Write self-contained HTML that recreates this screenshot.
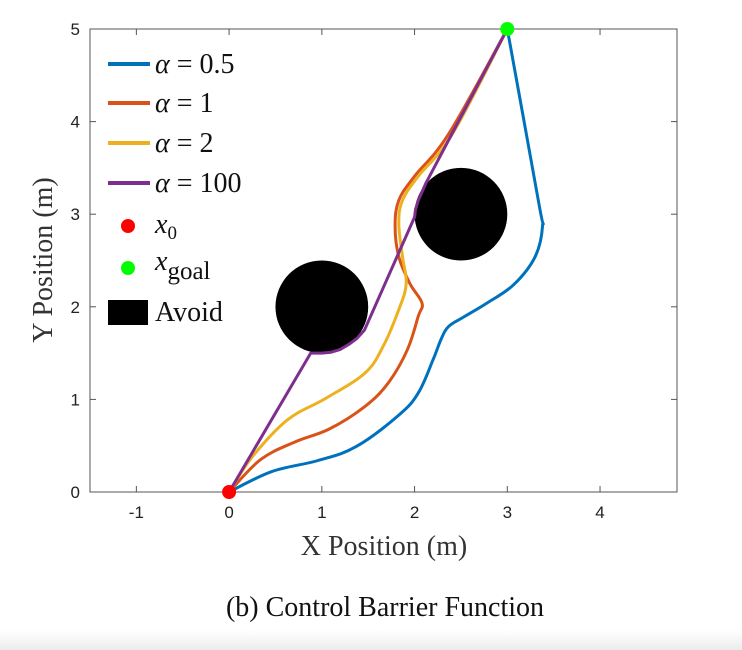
<!DOCTYPE html>
<html><head><meta charset="utf-8"><style>
body{margin:0;background:#fff;width:742px;height:650px;overflow:hidden;position:relative}
svg{position:absolute;left:0;top:0}
</style></head><body>
<svg width="742" height="650">
<defs><linearGradient id="fade" x1="0" y1="0" x2="0" y2="1"><stop offset="0" stop-color="#fff"/><stop offset="1" stop-color="#ececec"/></linearGradient></defs>
<rect x="0" y="630" width="742" height="20" fill="url(#fade)"/>
<g id="plot"></g>
<text x="384" y="555" font-family="Liberation Serif, serif" font-size="28" text-anchor="middle" fill="#333">X Position (m)</text>
<text transform="translate(52,260) rotate(-90)" font-family="Liberation Serif, serif" font-size="28" text-anchor="middle" fill="#333">Y Position (m)</text>
<text x="385" y="616" font-family="Liberation Serif, serif" font-size="28" text-anchor="middle" fill="#111">(b) Control Barrier Function</text>
</svg>
<script>
const xTicks=[-1,0,1,2,3,4];
const yTicks=[0,1,2,3,4,5];
const obstacles=[[1,2,0.5],[2.5,3,0.5]];
const start=[0,0];
const goal=[3,5];
const seriesNames=['α = 0.5','α = 1','α = 2','α = 100'];
const seriesColors=['#0072BD','#D95319','#EDB120','#7E2F8E'];
const blueX=[0,0.46,0.96,1.37,1.83,2.04,2.2,2.29,2.37,2.53,2.78,3.07,3.3,3.38,3.34,3.0];
const blueY=[0,0.22,0.34,0.49,0.83,1.07,1.43,1.66,1.79,1.89,2.04,2.24,2.54,2.87,3.12,5.0];
const orangeX=[0,0.34,0.71,1.08,1.46,1.71,1.92,2.04,2.08,1.95,1.83,1.79,1.83,2.0,2.37,3.0];
const orangeY=[0,0.35,0.54,0.68,0.92,1.17,1.53,1.9,2.04,2.25,2.54,2.87,3.15,3.41,3.87,5.0];
const yellowX=[0,0.25,0.63,1.04,1.46,1.66,1.83,1.91,1.87,1.83,1.87,2.04,2.41,3.0];
const yellowY=[0,0.38,0.78,1.01,1.28,1.57,1.97,2.25,2.54,2.9,3.15,3.41,3.87,5.0];
const purpleX=[0,0.88,0.95,1.0,1.1,1.2,1.3,1.38,1.46,2.0,2.01,2.04,2.12,3.0];
const purpleY=[0,1.5,1.5,1.5,1.51,1.54,1.6,1.66,1.75,2.97,3.05,3.15,3.33,5.0];
const L=90,R=677,T=29,B=492,xMin=-1.5,xMax=4.83,yMin=0,yMax=5;
const sx=v=>L+(v-xMin)/(xMax-xMin)*(R-L);
const sy=v=>B-(v-yMin)/(yMax-yMin)*(B-T);
const NS='http://www.w3.org/2000/svg';
const g=document.getElementById('plot');
function mk(t,a,p){const e=document.createElementNS(NS,t);for(const k in a)e.setAttribute(k,a[k]);(p||g).appendChild(e);return e;}
function smooth(P){let d='M'+P[0][0].toFixed(1)+','+P[0][1].toFixed(1);const k=0.35/2;
for(let i=0;i<P.length-1;i++){const p0=P[Math.max(0,i-1)],p1=P[i],p2=P[i+1],p3=P[Math.min(P.length-1,i+2)];
const c1=[p1[0]+(p2[0]-p0[0])*k,p1[1]+(p2[1]-p0[1])*k],c2=[p2[0]-(p3[0]-p1[0])*k,p2[1]-(p3[1]-p1[1])*k];
d+=' C'+c1[0].toFixed(1)+','+c1[1].toFixed(1)+' '+c2[0].toFixed(1)+','+c2[1].toFixed(1)+' '+p2[0].toFixed(1)+','+p2[1].toFixed(1);}return d;}
function poly(P){return P.map((p,j)=>(j?'L':'M')+p[0].toFixed(1)+','+p[1].toFixed(1)).join(' ');}
const frame=mk('rect',{x:L,y:T,width:R-L,height:B-T,fill:'#fff',stroke:'#555','stroke-width':1});


xTicks.forEach(t=>{const x=sx(t);
mk('line',{x1:x,x2:x,y1:B,y2:B-6,stroke:'#555'});mk('line',{x1:x,x2:x,y1:T,y2:T+6,stroke:'#555'});
const tx=mk('text',{x:x,y:B+26,'text-anchor':'middle','font-family':'Liberation Sans, sans-serif','font-size':17,fill:'#222'});tx.textContent=t;

});
yTicks.forEach(t=>{const y=sy(t);
mk('line',{x1:L,x2:L+6,y1:y,y2:y,stroke:'#555'});mk('line',{x1:R,x2:R-6,y1:y,y2:y,stroke:'#555'});
const tx=mk('text',{x:L-10,y:y+6,'text-anchor':'end','font-family':'Liberation Sans, sans-serif','font-size':17,fill:'#222'});tx.textContent=t;

});
obstacles.forEach(o=>{const c=mk('ellipse',{cx:sx(o[0]),cy:sy(o[1]),rx:sx(o[0]+o[2])-sx(o[0]),ry:sy(o[1])-sy(o[1]+o[2]),fill:'#000'});

});
const sers=[[blueX,blueY],[orangeX,orangeY],[yellowX,yellowY],[purpleX,purpleY]];
sers.forEach((s,i)=>{const P=s[0].map((x,j)=>[sx(x),sy(s[1][j])]);
const p=mk('path',{d:i<3?smooth(P):poly(P),fill:'none',stroke:seriesColors[i],'stroke-width':3,'stroke-linejoin':'round','stroke-linecap':'round'});

});
const s0=mk('circle',{cx:sx(start[0]),cy:sy(start[1]),r:7,fill:'#f00'});


const s1=mk('circle',{cx:sx(goal[0]),cy:sy(goal[1]),r:7,fill:'#0f0'});


const lg=mk('g',{});


const ly=[64,103,143,183];
seriesNames.forEach((n,i)=>{mk('line',{x1:108,x2:150,y1:ly[i],y2:ly[i],stroke:seriesColors[i],'stroke-width':4},lg);
const t=mk('text',{x:155,y:ly[i]+9,'font-family':'Liberation Serif, serif','font-size':28,fill:'#111'},lg);
t.innerHTML='<tspan font-style="italic">α</tspan> = '+n.split('= ')[1];

});
mk('circle',{cx:128,cy:226,r:7,fill:'#f00'},lg);
let t=mk('text',{x:155,y:233,'font-family':'Liberation Serif, serif','font-size':28,fill:'#111'},lg);
t.innerHTML='<tspan font-style="italic">x</tspan><tspan font-size="19" dy="6">0</tspan>';


mk('circle',{cx:128,cy:268,r:7,fill:'#0f0'},lg);
t=mk('text',{x:155,y:270,'font-family':'Liberation Serif, serif','font-size':28,fill:'#111'},lg);
t.innerHTML='<tspan font-style="italic">x</tspan><tspan font-size="25" dy="9">goal</tspan>';


mk('rect',{x:108,y:300,width:40,height:25,fill:'#000'},lg);
t=mk('text',{x:155,y:321,'font-family':'Liberation Serif, serif','font-size':28,fill:'#111'},lg);
t.textContent='Avoid';


</script>
</body></html>
